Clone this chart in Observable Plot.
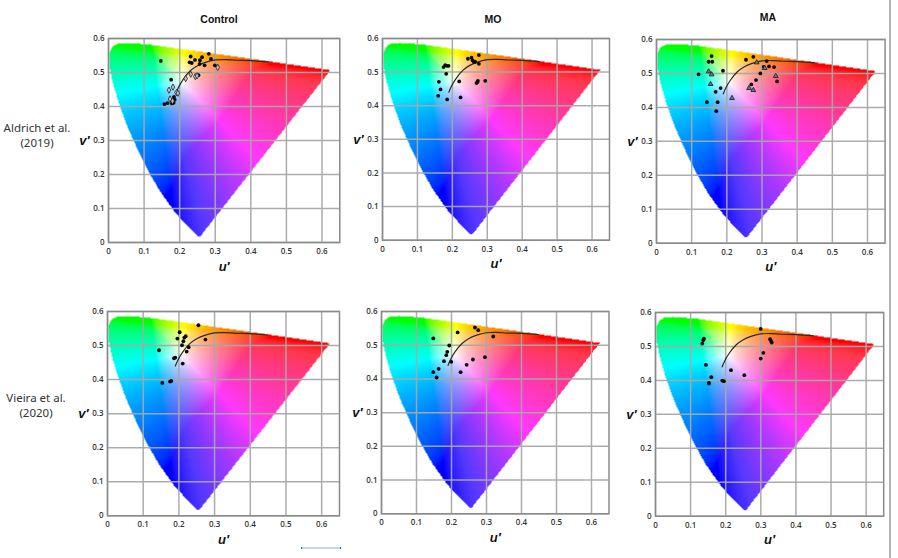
<!DOCTYPE html>
<html>
<head>
<meta charset="utf-8">
<script src="https://cdn.jsdelivr.net/npm/d3@7"></script>
<script src="https://cdn.jsdelivr.net/npm/@observablehq/plot@0.6"></script>
<style>
html,body{margin:0;padding:0;background:#fff;}
#page{position:relative;width:898px;height:558px;overflow:hidden;background:#fff;}
.panel{position:absolute;}
.panel svg{display:block;overflow:visible;}
.panel image{filter:blur(0.6px);}
.title{position:absolute;transform:translate(-50%,-50%);font:bold 10.5px "Liberation Sans",sans-serif;color:#111;white-space:nowrap;}
.row{position:absolute;transform:translate(-50%,-50%);font:11.5px/15px "Noto Sans",sans-serif;color:#333;text-align:center;white-space:nowrap;}
.rule{position:absolute;background:#b5b5b5;left:889px;top:0;width:1.5px;height:558px;}
.handle{position:absolute;left:301px;top:547px;width:38px;height:1.5px;background:#bcd8f2;border-left:1px solid #2a5fc0;border-right:1px solid #2a5fc0;}
</style>
</head>
<body>
<div id="page"></div>
<script>
// Spectral locus and purple line of the chromaticity diagram, [u', v']
const gamutBoundary = [[0.2568,0.0165],[0.2522,0.0169],[0.2347,0.035],[0.2161,0.0549],[0.1877,0.0871],[0.1441,0.151],[0.1147,0.2044],[0.0828,0.2708],[0.0521,0.3427],[0.0282,0.4117],[0.0119,0.4698],[0.0035,0.5131],[0.0014,0.5431],[0.0046,0.5638],[0.0123,0.577],[0.0231,0.5837],[0.0501,0.5868],[0.1127,0.5821],[0.2026,0.5694],[0.3315,0.5501],[0.4692,0.5296],[0.5565,0.5165],[0.6234,0.5065]];
const meanCurve = [[0.19,0.44],[0.197,0.457],[0.21,0.48],[0.23,0.505],[0.25,0.52],[0.27,0.529],[0.3,0.537],[0.33,0.538],[0.36,0.536],[0.4,0.535],[0.45,0.531]];

const aldrichControlFilled = [[0.147,0.534],[0.176,0.479],[0.231,0.547],[0.243,0.537],[0.228,0.53],[0.234,0.528],[0.256,0.525],[0.263,0.545],[0.257,0.536],[0.282,0.555],[0.288,0.54],[0.27,0.521],[0.299,0.521],[0.253,0.492],[0.157,0.407],[0.166,0.41],[0.184,0.428],[0.186,0.42],[0.181,0.416],[0.183,0.411],[0.178,0.409]];
const aldrichControlOpen = [[0.17,0.448],[0.181,0.457],[0.173,0.422],[0.191,0.441],[0.195,0.439],[0.217,0.482],[0.231,0.495],[0.244,0.488],[0.249,0.49],[0.307,0.515],[0.18,0.416]];
const aldrichMOFilled = [[0.2445,0.5397],[0.255,0.5427],[0.2579,0.5347],[0.2617,0.5308],[0.2655,0.5308],[0.276,0.5506],[0.276,0.5248],[0.1748,0.5149],[0.1796,0.5208],[0.1843,0.5188],[0.1891,0.5188],[0.1824,0.495],[0.1614,0.4712],[0.2197,0.4722],[0.2732,0.4742],[0.2713,0.4702],[0.2693,0.4673],[0.2942,0.4742],[0.1662,0.4484],[0.1595,0.4296],[0.1853,0.4187],[0.2235,0.4246]];
const aldrichMAFilled = [[0.1197,0.497],[0.1481,0.5344],[0.1586,0.5344],[0.1567,0.5511],[0.189,0.5079],[0.1681,0.446],[0.1823,0.4568],[0.1434,0.4155],[0.1738,0.4155],[0.17,0.389],[0.2545,0.5403],[0.2754,0.5491],[0.3134,0.5363],[0.32,0.5206],[0.3343,0.5187],[0.3048,0.5196],[0.2953,0.5],[0.283,0.4804],[0.2697,0.4676],[0.3428,0.4764]];
const aldrichMATriangles = [[0.1481,0.5059],[0.1567,0.497],[0.1538,0.4686],[0.2146,0.4273],[0.263,0.4568],[0.2754,0.4509],[0.2849,0.5324],[0.3077,0.5157],[0.339,0.4921]];
const vieiraControlFilled = [[0.2547,0.5596],[0.2022,0.5391],[0.1957,0.5205],[0.2191,0.5273],[0.2153,0.5234],[0.2125,0.5126],[0.2088,0.5009],[0.2275,0.495],[0.2219,0.4823],[0.1442,0.4862],[0.19,0.4647],[0.1863,0.4627],[0.2107,0.447],[0.1788,0.3962],[0.1751,0.3942],[0.1536,0.3903],[0.2743,0.5175]];
const vieiraMOFilled = [[0.267,0.5526],[0.2765,0.5447],[0.2175,0.5378],[0.1479,0.52],[0.3194,0.5259],[0.1936,0.4992],[0.1879,0.4804],[0.1851,0.4706],[0.1784,0.4528],[0.1994,0.4508],[0.2613,0.4577],[0.2956,0.4646],[0.2432,0.4419],[0.1632,0.43],[0.1479,0.4201],[0.226,0.4201],[0.1575,0.4043]];
const vieiraMAFilled = [[0.2997,0.5517],[0.1379,0.5233],[0.136,0.5184],[0.1332,0.5085],[0.3263,0.5213],[0.3292,0.5164],[0.3311,0.5115],[0.3073,0.4811],[0.2997,0.4644],[0.1437,0.4457],[0.215,0.43],[0.2531,0.4153],[0.1589,0.4094],[0.1522,0.3927],[0.1522,0.3907],[0.1903,0.3996],[0.195,0.3976]];

const columnTitles = ["Control", "MO", "MA"];
const rowTitles = [["Aldrich et al.", "(2019)"], ["Vieira et al.", "(2020)"]];
const uTicks = [0, 0.1, 0.2, 0.3, 0.4, 0.5, 0.6];
const vTicks = [0, 0.1, 0.2, 0.3, 0.4, 0.5, 0.6];

const panels = [
  {left: 107.7, right: 339,   top: 38.3,  bottom: 242.3, filled: aldrichControlFilled, open: aldrichControlOpen},
  {left: 381.7, right: 608.7, top: 38.3,  bottom: 240,   filled: aldrichMOFilled},
  {left: 655.7, right: 884.3, top: 39.3,  bottom: 243,   filled: aldrichMAFilled, triangles: aldrichMATriangles},
  {left: 107,   right: 339,   top: 310.7, bottom: 515,   filled: vieiraControlFilled},
  {left: 380.9, right: 608.4, top: 310.7, bottom: 513,   filled: vieiraMOFilled},
  {left: 655,   right: 883.2, top: 312.3, bottom: 516,   filled: vieiraMAFilled}
];

// Chromaticity colour of a (u', v') position, clipped and scaled to the sRGB gamut
const gamma = (c) => c <= 0.0031308 ? 12.92 * c : 1.055 * Math.pow(c, 1 / 2.4) - 0.055;
function chromaColor(u, v) {
  if (!d3.polygonContains(gamutBoundary, [u, v])) return null;
  const d = 6 * u - 16 * v + 12, x = 9 * u / d, y = 4 * v / d;
  const X = x / y, Z = (1 - x - y) / y;
  let r = 0.85 * Math.max(0, 3.2406 * X - 1.5372 - 0.4986 * Z);
  let g = Math.max(0, -0.9689 * X + 1.8758 + 0.0415 * Z);
  let b = 1.05 * Math.max(0, 0.0557 * X - 0.204 + 1.057 * Z);
  const m = Math.max(r, g, b);
  let R = gamma(r / m), G = gamma(g / m), B = gamma(b / m);
  if (R < B) R = Math.pow(R, 1.4);
  G = Math.max(G, 0.22 * Math.min(1, R / 0.33) * Math.min(1, B / 0.3));
  const f = (c) => Math.round(255 * c);
  return `rgb(${f(R)},${f(G)},${f(B)})`;
}

const ML = 32, MR = 8, MT = 8, MB = 36;
const page = document.getElementById("page");

panels.forEach((p) => {
  const marks = [
    Plot.raster({x1: 0, x2: 0.65, y1: 0, y2: 0.6, pixelSize: 1, imageRendering: "auto", fill: chromaColor}),
    Plot.gridX(uTicks, {stroke: "#a8a8a8", strokeWidth: 1.5, strokeOpacity: 0.95}),
    Plot.gridY(vTicks, {stroke: "#a8a8a8", strokeWidth: 1.5, strokeOpacity: 0.95}),
    Plot.frame({stroke: "#8a8a8a", strokeWidth: 1.5}),
    Plot.line(meanCurve, {x: "0", y: "1", curve: "catmull-rom", stroke: "#2a2a2a", strokeWidth: 1.2}),
    Plot.axisX(uTicks, {anchor: "bottom", tickSize: 0, tickPadding: 6, label: null, fontSize: 8, fontWeight: 600, fill: "#333",
      tickFormat: (d) => d === 0 ? "0" : d.toFixed(1)}),
    Plot.axisY(vTicks, {anchor: "left", tickSize: 0, tickPadding: 4, label: null, fontSize: 8, fontWeight: 600, fill: "#333",
      tickFormat: (d) => d === 0 ? "0" : d.toFixed(1)}),
    Plot.text(["u′"], {x: () => 0.325, frameAnchor: "bottom", lineAnchor: "middle", dy: 24, fontSize: 13, fontWeight: "bold", fontStyle: "italic", fill: "#111", fontFamily: "Liberation Sans"}),
    Plot.text(["v′"], {y: () => 0.3, frameAnchor: "left", textAnchor: "middle", dx: -24, fontSize: 13, fontWeight: "bold", fontStyle: "italic", fill: "#111", fontFamily: "Liberation Sans"})
  ];
  marks.push(Plot.dot(p.filled, {x: "0", y: "1", r: 1.9, fill: "#0a0a0a"}));
  if (p.open) marks.push(Plot.dot(p.open, {x: "0", y: "1", symbol: "diamond", r: 1.9, fill: "#b9bfbf", stroke: "#222", strokeWidth: 0.8}));
  if (p.triangles) marks.push(Plot.dot(p.triangles, {x: "0", y: "1", symbol: "triangle", r: 1.8, fill: "#4f7f9e", stroke: "#1a1a1a", strokeWidth: 0.8}));

  const chart = Plot.plot({
    width: p.right - p.left + ML + MR,
    height: p.bottom - p.top + MT + MB,
    marginLeft: ML, marginRight: MR, marginTop: MT, marginBottom: MB,
    style: {background: "transparent", fontFamily: "'Open Sans', sans-serif"},
    x: {domain: [0, 0.65]},
    y: {domain: [0, 0.6]},
    marks
  });
  const holder = document.createElement("div");
  holder.className = "panel";
  holder.style.left = (p.left - ML) + "px";
  holder.style.top = (p.top - MT) + "px";
  holder.appendChild(chart);
  page.appendChild(holder);
});

[[219, 19], [493, 19], [768, 17]].forEach(([cx, cy], i) => {
  const t = document.createElement("div");
  t.className = "title";
  t.style.left = cx + "px";
  t.style.top = cy + "px";
  t.textContent = columnTitles[i];
  page.appendChild(t);
});
[[37, 135], [36, 405]].forEach(([cx, cy], i) => {
  const t = document.createElement("div");
  t.className = "row";
  t.style.left = cx + "px";
  t.style.top = cy + "px";
  t.innerHTML = rowTitles[i].join("<br>");
  page.appendChild(t);
});
const rule = document.createElement("div");
rule.className = "rule";
page.appendChild(rule);
const handle = document.createElement("div");
handle.className = "handle";
page.appendChild(handle);
</script>
</body>
</html>
